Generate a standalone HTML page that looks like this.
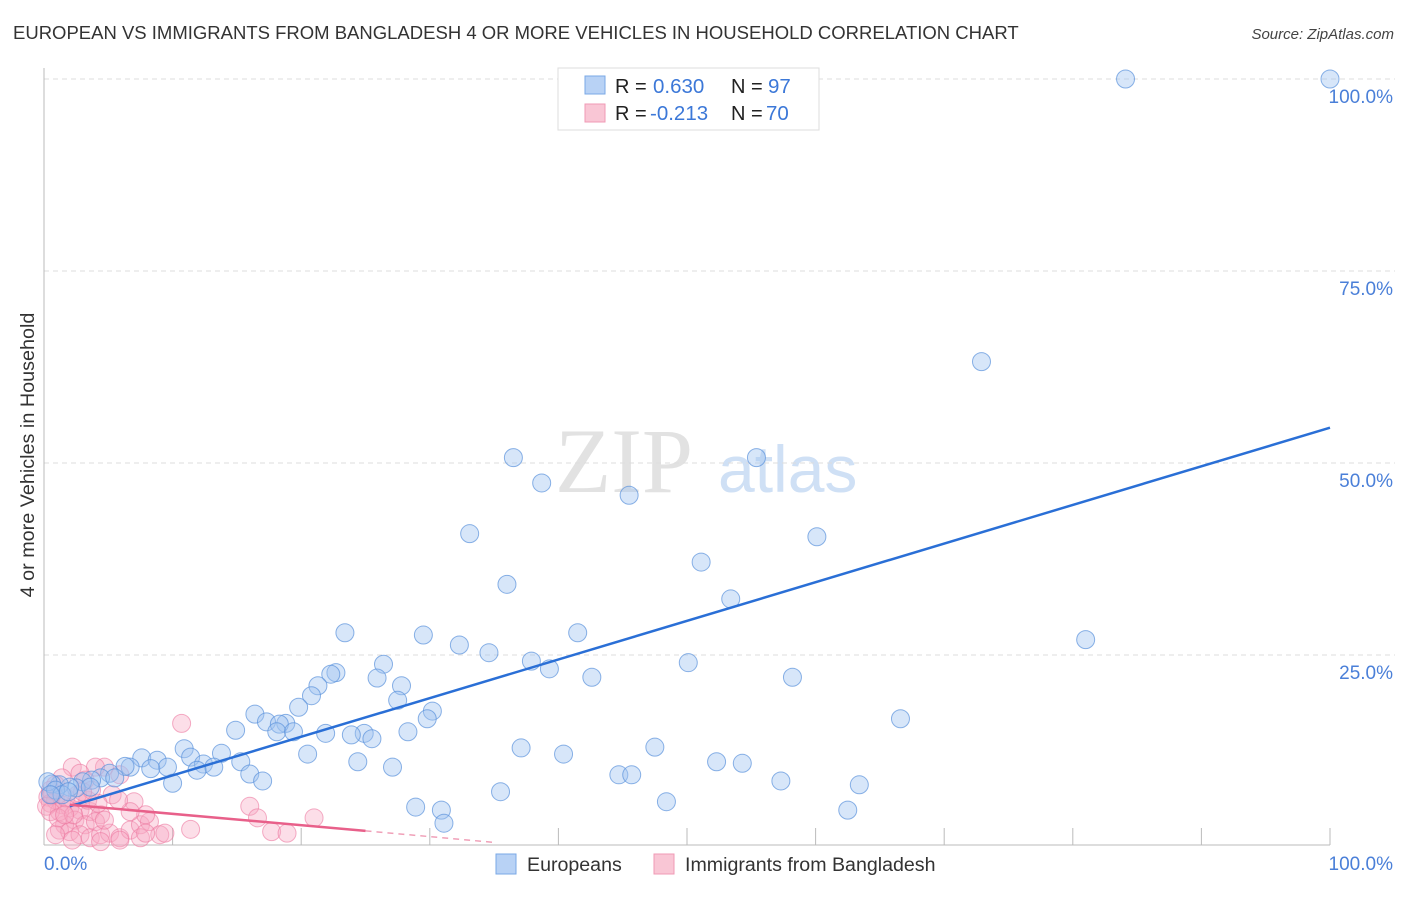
<!DOCTYPE html>
<html><head><meta charset="utf-8"><style>
body{margin:0;background:#fff;font-family:"Liberation Sans",sans-serif}
</style></head><body>
<svg id="chart" width="1406" height="892" xmlns="http://www.w3.org/2000/svg" font-family="Liberation Sans, sans-serif">
<text x="13" y="39" font-size="18.5" fill="#333">EUROPEAN VS IMMIGRANTS FROM BANGLADESH 4 OR MORE VEHICLES IN HOUSEHOLD CORRELATION CHART</text>
<text x="1394" y="39" font-size="15" fill="#444" text-anchor="end" font-style="italic">Source: ZipAtlas.com</text>
<text transform="translate(34,455) rotate(-90)" font-size="19.8" fill="#333" text-anchor="middle">4 or more Vehicles in Household</text>
<g>
<text x="555" y="492" font-size="92" font-family="Liberation Serif, serif" fill="#e2e2e2">ZIP</text>
<text x="718" y="492" font-size="66" fill="#cfe0f5">atlas</text>
</g>
<g id="grid"></g><g id="axes"></g><g id="marks"></g>
<g>
<rect x="558" y="68" width="261" height="62" fill="#fff" stroke="#ddd"/>
<rect x="585" y="76" width="20" height="18" fill="#b8d2f5" stroke="#7aa8e6"/>
<rect x="585" y="104" width="20" height="18" fill="#f9c6d5" stroke="#f09ab5"/>
<text x="615" y="93" font-size="20" fill="#222">R = </text><text x="653" y="93" font-size="20.5" fill="#3c78d8">0.630</text>
<text x="731" y="93" font-size="20" fill="#222">N = </text><text x="768" y="93" font-size="20.5" fill="#3c78d8">97</text>
<text x="615" y="120" font-size="20" fill="#222">R = </text><text x="650" y="120" font-size="20.5" fill="#3c78d8">-0.213</text>
<text x="731" y="120" font-size="20" fill="#222">N = </text><text x="766" y="120" font-size="20.5" fill="#3c78d8">70</text>
</g>
<g>
<rect x="496" y="854" width="20" height="20" fill="#b8d2f5" stroke="#7aa8e6"/>
<text x="527" y="871" font-size="19.6" fill="#333">Europeans</text>
<rect x="654" y="854" width="20" height="20" fill="#f9c6d5" stroke="#f09ab5"/>
<text x="685" y="871" font-size="19.6" fill="#333">Immigrants from Bangladesh</text>
</g>
</svg>
<script>
const blueX=[84.1,100,72.9,36.5,55.4,38.7,45.5,33.1,60.1,51.1,36.0,53.4,23.4,29.5,41.5,32.3,34.6,37.9,50.1,26.4,22.7,22.3,25.9,42.6,58.2,21.3,27.8,39.3,20.8,27.5,19.8,30.2,16.4,66.6,29.8,17.3,18.8,18.3,14.9,18.1,19.4,24.9,28.3,23.9,25.5,21.9,81.0,10.9,47.5,37.1,40.4,20.5,13.8,11.4,15.3,12.4,13.2,11.9,24.4,7.6,8.8,9.6,8.3,6.7,6.3,27.1,52.3,54.3,16.0,17.0,44.7,45.7,57.3,10.0,63.4,35.5,28.9,30.9,31.1,48.4,62.5,5.1,4.4,3.7,3.0,2.5,2.0,1.2,0.6,0.3,0.9,1.4,3.6,5.5,1.9,0.5];
const blueY=[100,100,63.2,50.7,50.7,47.4,45.8,40.8,40.4,37.1,34.2,32.3,27.9,27.6,27.9,26.3,25.3,24.2,24.0,23.8,22.7,22.5,22.0,22.1,22.1,21.0,21.0,23.2,19.7,19.1,18.2,17.7,17.3,16.7,16.7,16.3,16.1,16.0,15.2,15.0,15.0,14.8,15.0,14.6,14.1,14.8,27.0,12.8,13.0,12.9,12.1,12.1,12.2,11.7,11.1,10.8,10.4,10.0,11.1,11.6,11.3,10.4,10.2,10.4,10.5,10.4,11.1,10.9,9.5,8.6,9.4,9.4,8.6,8.3,8.1,7.2,5.2,4.8,3.1,5.9,4.8,9.6,9.0,8.7,8.5,7.7,7.8,8.1,8.2,8.5,7.4,6.8,7.8,9.0,7.2,6.8];
const pinkX=[10.7,2.2,4.7,4.0,2.8,3.2,5.9,1.4,0.9,0.5,0.3,0.5,0.9,1.4,2.0,2.8,3.6,4.4,2.4,3.2,4.0,1.6,1.2,2.0,2.8,3.6,4.4,5.1,5.9,6.7,7.5,8.2,9.0,2.2,4.4,5.9,7.5,0.9,16.0,16.6,17.7,18.9,21.0,11.4,7.0,7.9,6.7,4.7,5.3,1.2,0.2,0.5,1.1,3.4,4.2,1.7,2.6,0.6,5.8,3.7,7.9,9.4,3.0,2.3,1.6];
const pinkY=[16.1,10.4,10.4,10.4,9.6,8.7,9.4,9.0,8.1,7.4,6.5,5.7,6.1,5.5,5.1,4.8,4.6,4.2,3.5,2.9,3.3,2.9,2.2,2.0,1.6,1.2,1.6,1.8,1.2,2.2,2.9,3.3,1.6,0.9,0.7,0.9,1.2,1.6,5.3,3.8,2.0,1.8,3.8,2.3,5.9,4.2,4.6,3.5,6.8,4.6,5.3,4.6,3.8,6.1,5.7,6.4,6.8,6.8,6.1,7.4,1.8,1.8,7.2,4.2,4.2];
const yTicks=[25,50,75,100];
const yTickLabels=["25.0%","50.0%","75.0%","100.0%"];
const xTicks=[0,10,20,30,40,50,60,70,80,90,100];
const blueLine=[[2,5.3],[100,54.6]];
const pinkSolid=[[2,5.5],[25,2.1]];
const pinkDash=[[25,2.1],[35,0.6]];

const NS="http://www.w3.org/2000/svg";
const sx=v=>44+v*12.86, sy=v=>847-v*7.68;
function mk(tag,attrs,parent){const e=document.createElementNS(NS,tag);for(const k in attrs)e.setAttribute(k,attrs[k]);document.getElementById(parent).appendChild(e);return e;}
yTicks.forEach((t,i)=>{
  const g=mk('line',{x1:44,x2:1395,y1:sy(t),y2:sy(t),stroke:'#ddd','stroke-dasharray':'5,4'},'grid');
  
  
  const l=mk('text',{x:1393,y:sy(t)+24,'font-size':19,fill:'#4a7fd8','text-anchor':'end'},'axes');
  l.textContent=yTickLabels[i];
  
  
});
let a=mk('line',{x1:44,x2:44,y1:68,y2:845,stroke:'#bbb'},'axes');


a=mk('line',{x1:44,x2:1330,y1:845,y2:845,stroke:'#bbb'},'axes');


xTicks.forEach(t=>{
  const e=mk('line',{x1:sx(t),x2:sx(t),y1:828,y2:845,stroke:'#bbb'},'axes');
  
  
});
let t0=mk('text',{x:44,y:870,'font-size':19,fill:'#4a7fd8'},'axes');t0.textContent='0.0%';


let t1=mk('text',{x:1393,y:870,'font-size':19,fill:'#4a7fd8','text-anchor':'end'},'axes');t1.textContent='100.0%';


pinkX.forEach((x,i)=>{
  const c=mk('circle',{cx:sx(x),cy:sy(pinkY[i]),r:9,fill:'rgba(248,168,195,0.38)',stroke:'rgba(236,120,160,0.6)'},'marks');
  
  
});
blueX.forEach((x,i)=>{
  const c=mk('circle',{cx:sx(x),cy:sy(blueY[i]),r:9,fill:'rgba(160,196,240,0.42)',stroke:'rgba(90,145,220,0.7)'},'marks');
  
  
});
let r=mk('line',{x1:sx(blueLine[0][0]),y1:sy(blueLine[0][1]),x2:sx(blueLine[1][0]),y2:sy(blueLine[1][1]),stroke:'#2a6fd6','stroke-width':2.5},'marks');


r=mk('line',{x1:sx(pinkSolid[0][0]),y1:sy(pinkSolid[0][1]),x2:sx(pinkSolid[1][0]),y2:sy(pinkSolid[1][1]),stroke:'#e8608a','stroke-width':2.5},'marks');


r=mk('line',{x1:sx(pinkDash[0][0]),y1:sy(pinkDash[0][1]),x2:sx(pinkDash[1][0]),y2:sy(pinkDash[1][1]),stroke:'#f0a0b8','stroke-width':1.5,'stroke-dasharray':'6,5'},'marks');


</script>
</body></html>
